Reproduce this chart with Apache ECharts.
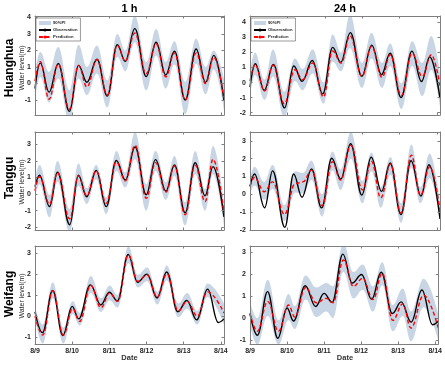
<!DOCTYPE html>
<html><head><meta charset="utf-8">
<script src="https://cdn.jsdelivr.net/npm/echarts@6.0.0/dist/echarts.min.js"></script>
<style>html,body{margin:0;padding:0;background:#fff}#c{width:445px;height:365px}</style>
</head><body><div id="c"></div>
<script>
// ---------- data (hours since 8/9 00:00) ----------
const dateLabels = ['8/9', '8/10', '8/11', '8/12', '8/13', '8/14'];
const dayTicks = [0, 24, 48, 72, 96, 120];
const columnTitles = ['1 h', '24 h'];
const stations = ['Huanghua', 'Tanggu', 'Weifang'];

// Huanghua observation
const hh_t   = [0, 3.4, 9.1, 15.0, 22.2, 28.1, 33.5, 40.0, 46.7, 53.1, 58.3, 64.4, 71.8, 78.2, 84.4, 90.0, 97.0, 104.0, 110.1, 115.4, 122];
const hh_obs = [-0.3, 1.25, -0.52, 1.21, -1.68, 1.1, 0.08, 1.47, -0.75, 2.34, 1.34, 3.32, 0.42, 2.49, 0.52, 1.95, -0.99, 2.09, 0.07, 1.7, -1.03];
// Huanghua 1 h
const hh1_pred = [0.15, 1.32, -0.95, 1.18, -1.55, 1.1, -0.2, 1.45, -0.7, 2.3, 1.35, 3.05, 0.6, 2.4, 0.4, 1.85, -1.0, 1.85, 0.0, 1.6, -0.9];
const hh1_lo   = [-0.9, 0.4, -1.15, 0.3, -2.3, 0.3, -0.7, 0.6, -1.45, 1.6, 0.75, 2.5, -0.4, 1.7, -0.3, 1.15, -1.85, 1.2, -0.65, 0.85, -1.6];
const hh1_hi   = [0.7, 1.9, 0.7, 2.2, -0.4, 2.35, 1.0, 2.3, 0.2, 3.0, 2.0, 4.1, 1.3, 3.3, 1.3, 2.55, 0.1, 2.7, 1.0, 2.0, 0.3];
// Huanghua 24 h
const hh24_t    = [0, 3.2, 9.4, 14.8, 22.0, 28.8, 33.8, 40.3, 47.2, 53.0, 58.5, 64.2, 71.9, 78.0, 84.8, 90.0, 97.2, 104.1, 110.6, 116.4, 122];
const hh24_pred = [0.1, 1.2, -0.55, 1.15, -1.4, 0.85, 0.2, 1.3, -0.95, 2.1, 1.3, 3.1, 0.4, 2.4, 0.35, 1.85, -0.85, 1.95, 0.4, 1.85, -0.2];
const hh24_lo   = [-0.9, 0.5, -1.15, 0.4, -2.3, 0.1, -0.5, 0.6, -1.4, 1.4, 0.75, 2.3, -0.35, 1.6, -0.35, 1.1, -1.75, 1.1, -0.9, 0.85, -1.6];
const hh24_hi   = [0.8, 2.0, 0.2, 2.2, -0.6, 1.6, 0.9, 2.2, 0.0, 3.2, 2.0, 4.5, 1.3, 3.3, 1.3, 2.6, -0.05, 2.75, 1.3, 3.1, 0.6];

// Tanggu observation
const tg_t   = [0, 2.9, 9.4, 14.5, 22.4, 28.0, 33.4, 39.5, 46.0, 52.5, 58.3, 64.6, 71.8, 77.8, 84.5, 90.0, 96.9, 103.4, 109.8, 114.9, 122];
const tg_obs = [0.45, 1.14, -0.75, 1.32, -1.85, 1.14, -0.16, 1.42, -0.76, 2.03, 0.85, 2.84, -0.04, 2.08, 0.17, 1.76, -1.13, 1.89, -0.1, 1.66, -1.38];
// Tanggu 1 h
const tg1_pred = [0.2, 1.05, -0.6, 1.3, -1.5, 1.1, -0.1, 1.4, -0.55, 1.95, 0.8, 2.95, -0.25, 1.9, 0.1, 1.7, -1.25, 1.75, -0.45, 2.1, -1.15];
const tg1_lo   = [-0.2, 0.6, -1.4, 0.75, -2.3, 0.5, -0.6, 0.9, -1.2, 1.4, 0.4, 2.1, -1.0, 1.4, -0.35, 1.1, -1.9, 1.2, -1.0, 1.2, -1.9];
const tg1_hi   = [0.9, 1.75, -0.05, 2.0, -0.9, 1.85, 0.35, 1.75, -0.2, 2.6, 1.3, 3.75, 0.6, 2.6, 0.7, 2.3, -0.5, 2.6, 0.3, 2.9, -0.6];
// Tanggu 24 h
const tg24_t    = [0, 2.8, 9.2, 14.5, 22.1, 29.0, 34.0, 39.5, 46.3, 52.9, 58.2, 64.8, 72.2, 78.0, 84.0, 90.2, 97.0, 103.6, 109.4, 115.4, 122];
const tg24_pred = [0.45, 0.95, 0.15, 0.7, -1.12, 0.6, 0.7, 1.36, -0.64, 1.83, 0.8, 2.75, 0.25, 1.85, -0.2, 1.7, -1.05, 2.2, -0.05, 1.55, -0.9];
const tg24_lo   = [0.0, 0.5, -0.3, 0.3, -1.5, 0.1, 0.05, 0.8, -1.25, 1.35, 0.25, 2.0, -0.5, 1.3, -0.75, 1.1, -1.6, 1.5, -0.5, 0.9, -1.4];
const tg24_hi   = [0.9, 1.55, 0.7, 1.65, -0.6, 1.3, 1.2, 1.9, 0.0, 2.4, 1.4, 3.5, 0.75, 2.35, 0.4, 2.1, -0.5, 2.8, 0.4, 2.3, -0.5];

// Weifang observation
const wf_t   = [0, 4.8, 11.4, 18, 24, 28.2, 35.8, 42.5, 48, 53.2, 60.2, 66.2, 72.3, 78.8, 85, 92.2, 98, 104.4, 111.4, 118.3, 122];
const wf_obs = [0.2, -0.78, 1.21, -0.92, 0.46, -0.13, 1.48, 0.53, 1.13, 0.72, 2.92, 1.6, 1.99, 0.86, 2.09, 0.21, 0.74, -0.18, 1.28, -0.3, -0.13];
// Weifang 1 h
const wf1_t    = [0, 5.0, 11.5, 18.3, 24.3, 28.8, 36.0, 42.6, 48.2, 53.3, 60.3, 66.4, 72.4, 79.0, 85.1, 92.5, 98.2, 104.8, 111.3, 122];
const wf1_pred = [0.0, -0.9, 1.2, -0.9, 0.35, -0.25, 1.45, 0.4, 1.1, 0.7, 2.9, 1.65, 1.95, 0.9, 2.0, 0.25, 0.7, 0.0, 1.15, 0.15];
const wf1_lo   = [-0.1, -1.3, 0.85, -1.3, 0.1, -0.45, 1.1, 0.2, 0.75, 0.4, 2.5, 1.35, 1.65, 0.55, 1.7, -0.05, 0.35, -0.4, 0.9, -0.4];
const wf1_hi   = [0.45, -0.4, 1.6, -0.55, 0.7, 0.15, 1.9, 0.85, 1.45, 1.0, 3.3, 1.95, 2.3, 1.15, 2.4, 0.6, 1.1, 0.25, 1.55, 0.6];
// Weifang 24 h
const wf24_t    = [0, 4.7, 11.5, 18.5, 25.0, 29.0, 36.0, 43.0, 49.5, 53.8, 60.5, 67.0, 73.0, 79.7, 85.7, 92.5, 99.0, 104.3, 112.5, 122];
const wf24_pred = [0.23, -0.6, 0.76, -0.6, 0.6, 0.05, 1.4, 0.7, 0.9, 0.7, 2.65, 1.45, 1.82, 0.85, 2.05, -0.1, 0.65, -0.45, 1.05, -0.45];
const wf24_lo   = [-0.35, -1.2, 0.1, -1.2, -0.1, -0.5, 0.85, 0.05, 0.3, 0.0, 2.1, 0.9, 1.3, 0.3, 1.5, -0.6, 0.1, -1.05, 0.5, -1.0];
const wf24_hi   = [0.75, 0.0, 1.75, -0.1, 1.1, 0.55, 1.95, 1.4, 1.6, 1.45, 3.4, 2.1, 2.45, 1.45, 2.55, 0.6, 1.35, 0.3, 1.8, 0.2];

// y-axis ticks
const yTicks_hh1 = [-1, 0, 1, 2, 3, 4];
const yTicks_hh24 = [-2, -1, 0, 1, 2, 3, 4];
const yTicks_tg = [-2, -1, 0, 1, 2, 3];
const yTicks_wf = [-1, 0, 1, 2, 3];

// ---------- build ----------
const zip = (a, b) => a.map((v, i) => [v, b[i]]);
const panels = [
  {obsT: hh_t, obs: hh_obs, pT: hh_t,   pred: hh1_pred,  lo: hh1_lo,  hi: hh1_hi,  ymin: -1.9,  ymax: 4.08, yt: yTicks_hh1},
  {obsT: hh_t, obs: hh_obs, pT: hh24_t, pred: hh24_pred, lo: hh24_lo, hi: hh24_hi, ymin: -2.15, ymax: 4.42, yt: yTicks_hh24},
  {obsT: tg_t, obs: tg_obs, pT: tg_t,   pred: tg1_pred,  lo: tg1_lo,  hi: tg1_hi,  ymin: -2.17, ymax: 3.75, yt: yTicks_tg},
  {obsT: tg_t, obs: tg_obs, pT: tg24_t, pred: tg24_pred, lo: tg24_lo, hi: tg24_hi, ymin: -2.0,  ymax: 3.5,  yt: yTicks_tg},
  {obsT: wf_t, obs: wf_obs, pT: wf1_t,  pred: wf1_pred,  lo: wf1_lo,  hi: wf1_hi,  ymin: -1.32, ymax: 3.32, yt: yTicks_wf},
  {obsT: wf_t, obs: wf_obs, pT: wf24_t, pred: wf24_pred, lo: wf24_lo, hi: wf24_hi, ymin: -1.18, ymax: 3.29, yt: yTicks_wf}
];

const colLeft = [35, 250], colW = [189, 190];
const rowTop = [16, 132, 246], rowH = [99, 98, 98];
const BAND = '#c8d5e4';
const AXC = '#7f7f7f';
const TXT = '#262626';
const FONT = '"Liberation Sans", Arial, sans-serif';

const grid = [], xAxis = [], yAxis = [], series = [];
panels.forEach((p, i) => {
  const row = Math.floor(i / 2), col = i % 2;
  grid.push({left: colLeft[col], top: rowTop[row], width: colW[col], height: rowH[row], show: false});
  const xCommon = {
    gridIndex: i, type: 'value', min: 0, max: 122, z: 6,
    axisLine: {show: true, onZero: false, lineStyle: {color: AXC, width: 1}},
    axisTick: {show: true, inside: true, length: 2.5, customValues: dayTicks, lineStyle: {color: AXC}},
    splitLine: {show: false}
  };
  xAxis.push(Object.assign({}, xCommon, {
    position: 'bottom',
    axisLabel: {show: row === 2, customValues: dayTicks, margin: 4, fontSize: 7, fontWeight: 'bold', color: TXT, fontFamily: FONT,
      formatter: v => dateLabels[Math.round(v / 24)]}
  }));
  xAxis.push(Object.assign({}, xCommon, {position: 'top', axisLabel: {show: false}}));
  const yCommon = {
    gridIndex: i, type: 'value', min: p.ymin, max: p.ymax, z: 6,
    axisLine: {show: true, onZero: false, lineStyle: {color: AXC, width: 1}},
    axisTick: {show: true, inside: true, length: 2.5, customValues: p.yt, lineStyle: {color: AXC}},
    splitLine: {show: false}
  };
  yAxis.push(Object.assign({}, yCommon, {
    position: 'left',
    axisLabel: {show: true, customValues: p.yt, margin: 4, fontSize: 7, fontWeight: 'bold', color: TXT, fontFamily: FONT}
  }));
  yAxis.push(Object.assign({}, yCommon, {position: 'right', axisLabel: {show: false}}));

  const xi = 2 * i, yi = 2 * i;
  const common = {type: 'line', xAxisIndex: xi, yAxisIndex: yi, showSymbol: false, symbol: 'none',
    smooth: 0.4, smoothMonotone: 'x', animation: false, silent: true};
  series.push(Object.assign({}, common, {
    name: '90%PI', data: zip(p.pT, p.hi), z: 1,
    itemStyle: {color: BAND}, lineStyle: {opacity: 0, width: 0},
    areaStyle: {color: BAND, opacity: 1, origin: 'start'}
  }));
  series.push(Object.assign({}, common, {
    name: 'lowerPI', data: zip(p.pT, p.lo), z: 2,
    itemStyle: {color: '#fff'}, lineStyle: {opacity: 0, width: 0},
    areaStyle: {color: '#fff', opacity: 1, origin: 'start'}
  }));
  series.push(Object.assign({}, common, {
    name: 'Observation', data: zip(p.obsT, p.obs), z: 3,
    itemStyle: {color: '#000'}, lineStyle: {color: '#000', width: 1.4}
  }));
  series.push(Object.assign({}, common, {
    name: 'Prediction', data: zip(p.pT, p.pred), z: 4,
    itemStyle: {color: '#ff0000'}, lineStyle: {color: '#ff0000', width: 1.4, type: [4, 2.5]}
  }));
});

const legendBase = {
  orient: 'vertical', top: 18, itemWidth: 12, itemHeight: 4, itemGap: 3,
  padding: [3, 3, 2, 2], backgroundColor: '#fff', borderColor: '#555', borderWidth: 0.6,
  textStyle: {fontSize: 4.2, fontWeight: 'bold', color: TXT, fontFamily: FONT, padding: [0, 0, 0, -3]},
  selectedMode: false, z: 10,
  data: [{name: '90%PI', icon: 'rect'}, 'Observation', 'Prediction']
};
const legend = [Object.assign({}, legendBase, {left: 36}), Object.assign({}, legendBase, {left: 251})];

const graphic = [];
columnTitles.forEach((s, c) => graphic.push({type: 'text', x: colLeft[c] + colW[c] / 2, y: 8.5,
  style: {text: s, font: 'bold 11px ' + FONT, fill: '#000', textAlign: 'center', textVerticalAlign: 'middle'}}));
const rowLabelY = [68, 178, 294];
const wlY = [68, 182, 296];
stations.forEach((s, r) => {
  graphic.push({type: 'text', x: 10, y: rowLabelY[r], rotation: Math.PI / 2,
    style: {text: s, font: 'bold 12px ' + FONT, fill: '#000', textAlign: 'center', textVerticalAlign: 'middle'}});
  graphic.push({type: 'text', x: 22.5, y: wlY[r], rotation: Math.PI / 2,
    style: {text: 'Water level(m)', font: '7px ' + FONT, fill: TXT, textAlign: 'center', textVerticalAlign: 'middle'}});
});
[0, 1].forEach(c => graphic.push({type: 'text', x: colLeft[c] + colW[c] / 2, y: 358,
  style: {text: 'Date', font: 'bold 7.5px ' + FONT, fill: '#333', textAlign: 'center', textVerticalAlign: 'middle'}}));

const chart = echarts.init(document.getElementById('c'), null, {renderer: 'canvas'});
chart.setOption({
  backgroundColor: '#fff', animation: false,
  grid, xAxis, yAxis, series, legend, graphic
});
</script></body></html>
